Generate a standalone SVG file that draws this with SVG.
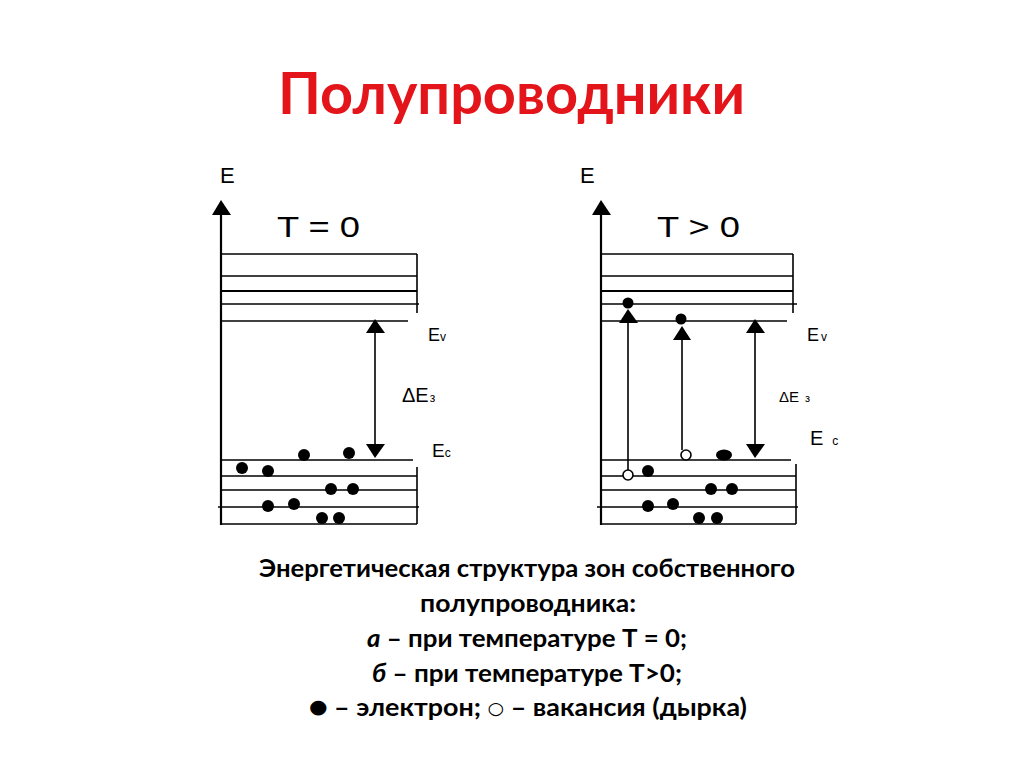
<svg xmlns="http://www.w3.org/2000/svg" width="1024" height="767" viewBox="0 0 1024 767">
<style>
.ln{stroke:#000;stroke-width:2;fill:none}
.th{stroke:#000;stroke-width:1.6;fill:none}
.ax{stroke:#000;stroke-width:2.2;fill:none}
.hd{fill:#000}
.el{fill:#000}
.ho{fill:#fff;stroke:#000;stroke-width:1.6}
.dl{font-family:"Liberation Sans",Arial,sans-serif;fill:#000}
.cap{font-family:Lato,"Open Sans",sans-serif;font-weight:bold;fill:#000;font-size:24px}
</style>
<rect width="1024" height="767" fill="#fff"/>
<g id="title">
<text x="511.5" y="114" text-anchor="middle" textLength="467" lengthAdjust="spacingAndGlyphs" font-family="Lato,'Open Sans',sans-serif" font-weight="bold" font-size="57" fill="#e3151b">Полупроводники</text>
</g>
<g id="diagram-a">
<polygon class="hd" points="221,200 212,215 231,215"/>
<line class="ax" x1="221" y1="214" x2="221" y2="525"/>
<text class="dl" x="220" y="183" font-size="22">E</text>
<text class="dl" x="277" y="237" font-size="30" textLength="83" lengthAdjust="spacingAndGlyphs">T = 0</text>
<line class="th" x1="221" y1="254" x2="417" y2="254"/>
<line class="th" x1="221" y1="276" x2="417" y2="276"/>
<line class="ln" x1="221" y1="291" x2="417" y2="291"/>
<line class="th" x1="221" y1="304" x2="419" y2="304"/>
<line class="th" x1="221" y1="321" x2="408" y2="321"/>
<line class="th" x1="417" y1="254" x2="417" y2="313"/>
<line class="th" x1="221" y1="460" x2="413" y2="460"/>
<line class="th" x1="221" y1="476" x2="417" y2="476"/>
<line class="th" x1="221" y1="490" x2="417" y2="490"/>
<line class="th" x1="218" y1="507" x2="419" y2="507"/>
<line class="th" x1="221" y1="524" x2="417" y2="524"/>
<line class="th" x1="417" y1="467" x2="417" y2="524"/>
<text class="dl" x="428" y="341" font-size="18">E<tspan font-size="12">v</tspan></text>
<text class="dl" x="402" y="402" font-size="20">ΔE<tspan font-size="12" dx="1">з</tspan></text>
<text class="dl" x="432" y="457" font-size="19">E<tspan font-size="12">c</tspan></text>
<g id="electrons-a">
<circle class="el" cx="242" cy="468" r="6"/>
<circle class="el" cx="268" cy="471" r="6"/>
<circle class="el" cx="304" cy="455" r="6"/>
<circle class="el" cx="349" cy="453" r="6"/>
<circle class="el" cx="331" cy="489" r="6"/>
<circle class="el" cx="353" cy="489" r="6"/>
<circle class="el" cx="268" cy="506" r="6"/>
<circle class="el" cx="294" cy="504" r="6"/>
<circle class="el" cx="322" cy="518" r="6"/>
<circle class="el" cx="339" cy="518" r="6"/>
</g>
</g>
<g id="diagram-b">
<polygon class="hd" points="601,200 592,215 611,215"/>
<line class="ax" x1="601" y1="214" x2="601" y2="525"/>
<text class="dl" x="580" y="183" font-size="22">E</text>
<text class="dl" x="657" y="237" font-size="30" textLength="83" lengthAdjust="spacingAndGlyphs">T &gt; 0</text>
<line class="th" x1="601" y1="254" x2="793" y2="254"/>
<line class="th" x1="601" y1="276" x2="793" y2="276"/>
<line class="ln" x1="601" y1="291" x2="793" y2="291"/>
<line class="th" x1="601" y1="304" x2="797" y2="304"/>
<line class="th" x1="601" y1="321" x2="787" y2="321"/>
<line class="th" x1="793" y1="254" x2="793" y2="313"/>
<line class="th" x1="601" y1="460" x2="791" y2="460"/>
<line class="th" x1="601" y1="476" x2="796" y2="476"/>
<line class="th" x1="601" y1="490" x2="796" y2="490"/>
<line class="th" x1="597" y1="507" x2="798" y2="507"/>
<line class="th" x1="601" y1="524" x2="796" y2="524"/>
<line class="th" x1="796" y1="464" x2="796" y2="524"/>
<text class="dl" x="807" y="341" font-size="18">E<tspan font-size="12" dx="2">v</tspan></text>
<text class="dl" x="779" y="402" font-size="15">ΔE<tspan font-size="11" dx="6">з</tspan></text>
<text class="dl" x="810" y="445" font-size="20">E<tspan font-size="12" dx="9">c</tspan></text>
<g id="electrons-b">
<circle class="el" cx="628" cy="303" r="5.5"/>
<circle class="el" cx="681" cy="319" r="5.5"/>
<circle class="el" cx="648" cy="471" r="6"/>
<ellipse class="el" cx="724" cy="455" rx="8" ry="5.5"/>
<circle class="el" cx="711" cy="489" r="6"/>
<circle class="el" cx="732" cy="489" r="6"/>
<circle class="el" cx="648" cy="506" r="6"/>
<circle class="el" cx="673" cy="504" r="6"/>
<circle class="el" cx="699" cy="518" r="6"/>
<circle class="el" cx="717" cy="518" r="6"/>
<circle class="ho" cx="628" cy="475" r="5"/>
<circle class="ho" cx="686" cy="455" r="5"/>
</g>
</g>
<g id="connectors">
<line class="th" x1="375" y1="330" x2="375" y2="448"/>
<polygon class="hd" points="375,319 366,333 385,333"/>
<polygon class="hd" points="366,444 385,444 375,458"/>
<line class="th" x1="755" y1="330" x2="755" y2="448"/>
<polygon class="hd" points="755,319 746,333 765,333"/>
<polygon class="hd" points="746,444 765,444 755,458"/>
<line class="th" x1="628" y1="320" x2="628" y2="470"/>
<polygon class="hd" points="628,309 619,323 638,323"/>
<line class="th" x1="682" y1="337" x2="682" y2="450"/>
<polygon class="hd" points="682,326 673,340 691,340"/>
</g>
<g id="caption">
<text class="cap" x="527" y="577" text-anchor="middle" textLength="536" lengthAdjust="spacingAndGlyphs">Энергетическая структура зон собственного</text>
<text class="cap" x="528" y="612" text-anchor="middle" textLength="216" lengthAdjust="spacingAndGlyphs">полупроводника:</text>
<text class="cap" x="527" y="647" text-anchor="middle" textLength="320" lengthAdjust="spacingAndGlyphs"><tspan font-style="italic">а</tspan> – при температуре Т = 0;</text>
<text class="cap" x="527" y="682" text-anchor="middle" textLength="310" lengthAdjust="spacingAndGlyphs"><tspan font-style="italic">б</tspan> – при температуре Т&gt;0;</text>
<text class="cap" x="528" y="716" text-anchor="middle" textLength="438" lengthAdjust="spacingAndGlyphs"><tspan font-family="'DejaVu Sans',sans-serif" font-size="19" dy="-3">●</tspan><tspan dy="3"> – электрон; </tspan><tspan font-family="'DejaVu Sans',sans-serif" font-size="17" font-weight="bold" dy="-2">○</tspan><tspan dy="2"> – вакансия (дырка)</tspan></text>
</g>
</svg>
